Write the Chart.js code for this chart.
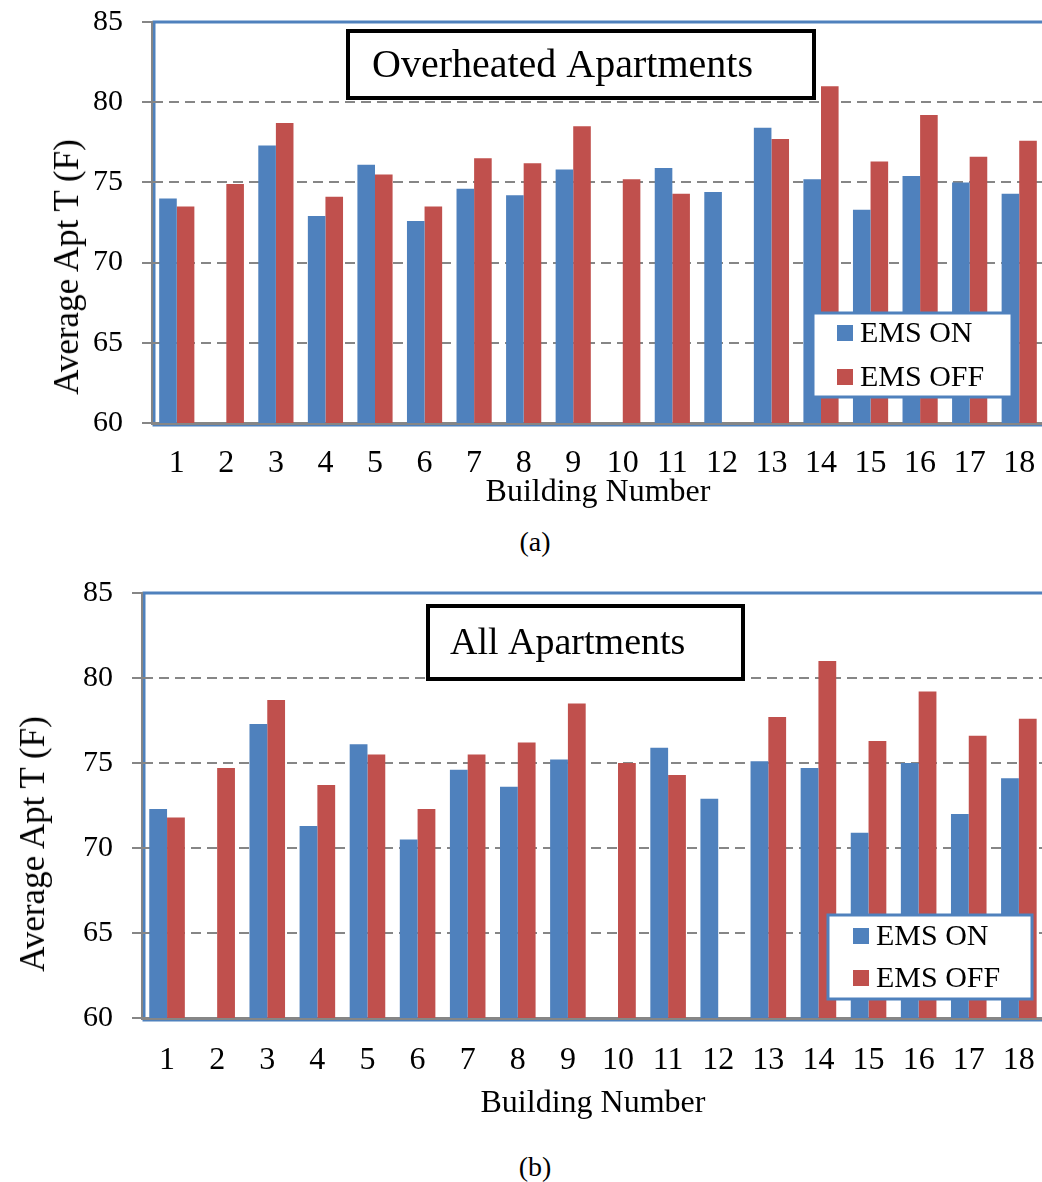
<!DOCTYPE html>
<html>
<head>
<meta charset="utf-8">
<script src="https://cdn.jsdelivr.net/npm/chart.js@4.4.0/dist/chart.umd.min.js"></script>
<style>
  html, body { margin:0; padding:0; background:#fff; overflow:hidden; }
  body { width:1042px; height:1182px; position:relative; font-family:'Liberation Serif','Times New Roman',serif; }
  canvas { position:absolute; left:0; }
  .ytitle { position:absolute; white-space:nowrap; font-size:35px; color:#000;
            transform:translate(-50%,-50%) rotate(-90deg); }
  .cap { position:absolute; font-size:28px; transform:translate(-50%,-50%); }
</style>
</head>
<body>
<canvas id="chartA" width="1050" height="520" style="top:0"></canvas>
<canvas id="chartB" width="1050" height="560" style="top:570px"></canvas>
<div class="ytitle" style="left:67px; top:267px">Average Apt T (F)</div>
<div class="ytitle" style="left:33px; top:844px">Average Apt T (F)</div>
<div class="cap" style="left:535px; top:542px">(a)</div>
<div class="cap" style="left:535px; top:1167px">(b)</div>
<script>
// Categorias e dados
const buildings = ['1','2','3','4','5','6','7','8','9','10','11','12','13','14','15','16','17','18'];
const overOn  = [74.0, null, 77.3, 72.9, 76.1, 72.6, 74.6, 74.2, 75.8, null, 75.9, 74.4, 78.4, 75.2, 73.3, 75.4, 75.0, 74.3];
const overOff = [73.5, 74.9, 78.7, 74.1, 75.5, 73.5, 76.5, 76.2, 78.5, 75.2, 74.3, null, 77.7, 81.0, 76.3, 79.2, 76.6, 77.6];
const allOn   = [72.3, null, 77.3, 71.3, 76.1, 70.5, 74.6, 73.6, 75.2, null, 75.9, 72.9, 75.1, 74.7, 70.9, 75.0, 72.0, 74.1];
const allOff  = [71.8, 74.7, 78.7, 73.7, 75.5, 72.3, 75.5, 76.2, 78.5, 75.0, 74.3, null, 77.7, 81.0, 76.3, 79.2, 76.6, 77.6];
const seriesNames = ['EMS ON', 'EMS OFF'];
const yMin = 60, yMax = 85, yStep = 5;

const BLUE = '#4F81BD', RED = '#C0504D', GRAY = '#868686';
const FONT = "'Liberation Serif','Times New Roman',serif";
Chart.defaults.font.family = FONT;
Chart.defaults.color = '#000';

// Borda azul da area do grafico
const plotFrame = {
  id:'plotFrame',
  beforeDraw(chart){
    const {ctx, chartArea:a} = chart;
    ctx.save();
    ctx.strokeStyle = BLUE; ctx.lineWidth = 3;
    ctx.strokeRect(a.left + 2, a.top, a.right - a.left + 20, a.bottom - a.top + 2);
    ctx.restore();
  }
};

// Caixa de titulo + legenda dentro do grafico
const boxes = {
  id:'boxes',
  afterDraw(chart, args, o){
    const ctx = chart.ctx;
    ctx.save();
    // titulo
    const t = o.title;
    ctx.fillStyle = '#fff';
    ctx.fillRect(t.x, t.y, t.w, t.h);
    ctx.strokeStyle = '#000'; ctx.lineWidth = 4;
    ctx.strokeRect(t.x, t.y, t.w, t.h);
    ctx.fillStyle = '#000';
    ctx.font = t.size + 'px ' + FONT;
    ctx.textBaseline = 'middle';
    ctx.fillText(t.text, t.x + t.pad, t.y + t.h / 2 + 2);
    // legenda
    const l = o.legend;
    ctx.fillStyle = '#fff';
    ctx.fillRect(l.x, l.y, l.w, l.h);
    ctx.strokeStyle = BLUE; ctx.lineWidth = 3;
    ctx.strokeRect(l.x, l.y, l.w, l.h);
    ctx.font = l.size + 'px ' + FONT;
    chart.data.datasets.forEach((ds, i) => {
      const cy = l.y + l.first + i * l.gap;
      ctx.fillStyle = ds.backgroundColor;
      ctx.fillRect(l.x + l.mx, cy - 8, 16, 16);
      ctx.fillStyle = '#000';
      ctx.fillText(ds.label, l.x + l.mx + 23, cy + 1);
    });
    ctx.restore();
  }
};

function makeChart(id, on, off, cfg){
  return new Chart(document.getElementById(id), {
    type:'bar',
    data:{
      labels:buildings,
      datasets:[
        {label:seriesNames[0], data:on,  backgroundColor:BLUE, borderWidth:0},
        {label:seriesNames[1], data:off, backgroundColor:RED,  borderWidth:0}
      ]
    },
    options:{
      responsive:false,
      animation:false,
      devicePixelRatio:1,
      categoryPercentage:0.71,
      barPercentage:1.0,
      layout:{padding:{top:cfg.top, right:cfg.right, left:0, bottom:0}},
      plugins:{
        legend:{display:false},
        tooltip:{enabled:false},
        boxes:{title:cfg.title, legend:cfg.legend}
      },
      scales:{
        x:{
          grid:{display:false},
          border:{display:true, color:GRAY, width:3},
          ticks:{font:{size:32}, padding:cfg.xPad, maxRotation:0, autoSkip:false},
          title:{display:true, text:'Building Number', font:{size:32}, padding:{top:0, bottom:cfg.xTitlePad}},
          afterFit(s){ s.height = cfg.xHeight; }
        },
        y:{
          min:yMin, max:yMax,
          ticks:{stepSize:yStep, font:{size:30}, padding:19},
          grid:{
            color:c => (c.tick.value === yMin || c.tick.value === yMax) ? 'rgba(0,0,0,0)' : GRAY,
            lineWidth:2, tickColor:GRAY, tickWidth:2, tickLength:10
          },
          border:{display:true, color:GRAY, width:2, dash:[10,6]},
          afterFit(s){ s.width = cfg.yWidth; s.paddingTop = 0; s.paddingBottom = 0; }
        }
      }
    },
    plugins:[plotFrame, boxes]
  });
}

makeChart('chartA', overOn, overOff, {
  top:22, right:6, yWidth:152, xHeight:97, xPad:13, xTitlePad:8,
  title:{text:'Overheated Apartments', x:348, y:31, w:466, h:67, size:40, pad:24},
  legend:{x:813, y:313, w:199, h:84, size:30, mx:24, first:20, gap:44}
});
makeChart('chartB', allOn, allOff, {
  top:23, right:5, yWidth:142, xHeight:112, xPad:15, xTitlePad:7,
  title:{text:'All Apartments', x:428, y:36, w:315, h:73, size:38, pad:22},
  legend:{x:828, y:345, w:204, h:84, size:30, mx:25, first:21, gap:42}
});
</script>
</body>
</html>
